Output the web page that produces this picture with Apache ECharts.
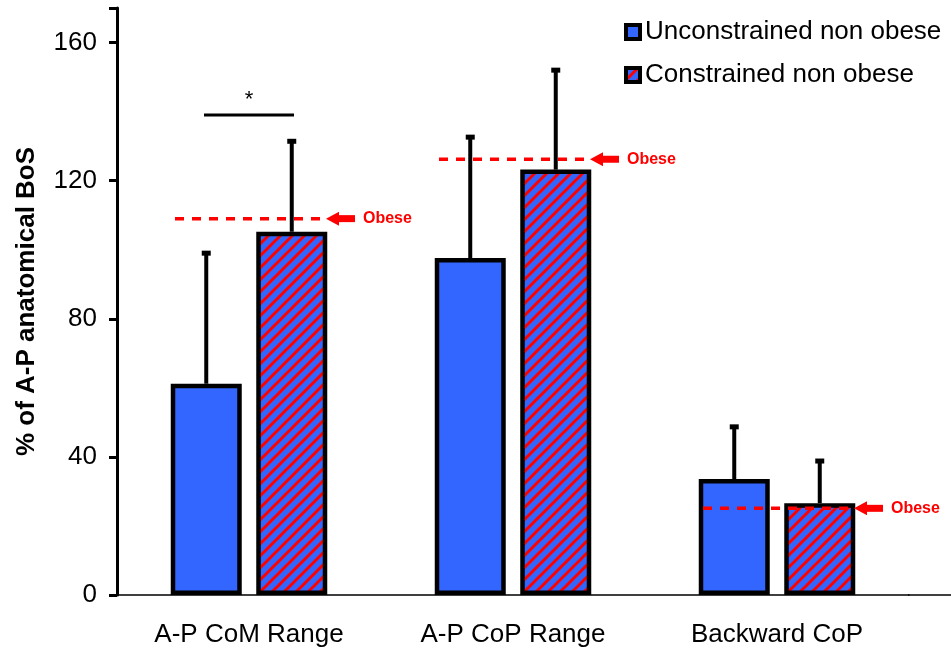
<!DOCTYPE html>
<html>
<head>
<meta charset="utf-8">
<script src="https://cdn.jsdelivr.net/npm/echarts@6/dist/echarts.min.js"></script>
<style>
  html, body { margin: 0; padding: 0; background: #fff; }
  #chart { width: 951px; height: 648px; }
</style>
</head>
<body>
<div id="chart"></div>
<script>
// data
var categories = ['A-P CoM Range', 'A-P CoP Range', 'Backward CoP']
var seriesNames = ['Unconstrained non obese', 'Constrained non obese']
var unconstrained = [61.2, 97.6, 33.6]
var unconstrainedErr = [99, 132.6, 48.7]
var constrained = [105.2, 123.2, 26.6]
var constrainedErr = [131.4, 152, 38.8]
var obese = [109, 126.2, 25.1]
var sigIndex = 0
var sigValue = 139
var yTicks = [0, 40, 80, 120, 160]

var BLUE = '#3366ff'
var RED = '#ff0000'
var FONT = 'Liberation Sans, Arial, sans-serif'
var BAR_W = 71
var BAR_GAP = 14.5 // px between the two bars of a group
var HALF = (BAR_W + BAR_GAP) / 2

// red diagonal stripes on blue
function makeStripes() {
  var c = document.createElement('canvas')
  c.width = 12
  c.height = 12
  var ctx = c.getContext('2d')
  ctx.fillStyle = BLUE
  ctx.fillRect(0, 0, 12, 12)
  ctx.strokeStyle = RED
  ctx.lineWidth = 3
  ctx.beginPath()
  ctx.moveTo(-1, 13); ctx.lineTo(13, -1)
  ctx.moveTo(-1, 1); ctx.lineTo(1, -1)
  ctx.moveTo(11, 13); ctx.lineTo(13, 11)
  ctx.stroke()
  return c
}
var stripes = { image: makeStripes(), repeat: 'repeat' }

function errData(means, tops) {
  return means.map(function(m, i) { return [i, m, tops[i]] })
}

function errorBars(offset) {
  return function(params, api) {
    var p0 = api.coord([api.value(0), api.value(1)])
    var p1 = api.coord([api.value(0), api.value(2)])
    var x = p0[0] + offset
    return {
      type: 'group',
      children: [
        { type: 'line', shape: { x1: x, y1: p0[1], x2: x, y2: p1[1] }, style: { stroke: '#000', lineWidth: 4 } },
        { type: 'rect', shape: { x: x - 4.5, y: p1[1] - 2.5, width: 9, height: 5 }, style: { fill: '#000' } }
      ]
    }
  }
}

var chart = echarts.init(document.getElementById('chart'))
chart.setOption({
  animation: false,
  textStyle: { fontFamily: FONT },
  grid: { left: 117, right: 42, top: 8, bottom: 53 },
  legend: {
    orient: 'vertical',
    left: 619,
    top: 14,
    icon: 'rect',
    itemWidth: 14,
    itemHeight: 14,
    itemGap: 17,
    itemStyle: { borderColor: '#000', borderWidth: 4 },
    textStyle: { fontSize: 26, color: '#000', fontFamily: FONT },
    data: seriesNames
  },
  xAxis: {
    type: 'category',
    data: categories,
    axisLine: { lineStyle: { color: '#000', width: 1.5 } },
    axisTick: { show: false },
    axisLabel: { fontSize: 26, color: '#000', margin: 27, fontFamily: FONT }
  },
  yAxis: {
    type: 'value',
    min: 0,
    max: 170,
    interval: 40,
    name: '% of A-P anatomical BoS',
    nameLocation: 'middle',
    nameGap: 77,
    nameTextStyle: { fontSize: 26, fontWeight: 'bold', color: '#000', fontFamily: FONT },
    axisLine: { show: true, lineStyle: { color: '#000', width: 3 } },
    axisTick: { show: true, length: 8, lineStyle: { color: '#000', width: 3 } },
    axisLabel: {
      fontSize: 26, color: '#000', margin: 20, fontFamily: FONT,
      formatter: function(v) { return yTicks.indexOf(v) >= 0 ? String(v) : '' }
    },
    splitLine: { show: false }
  },
  series: [
    {
      name: seriesNames[0],
      type: 'bar',
      barWidth: BAR_W,
      barGap: (BAR_GAP / BAR_W * 100) + '%',
      itemStyle: { color: BLUE, borderColor: '#000', borderWidth: 4.5 },
      data: unconstrained
    },
    {
      name: seriesNames[1],
      type: 'bar',
      barWidth: BAR_W,
      itemStyle: { color: stripes, borderColor: '#000', borderWidth: 4.5 },
      data: constrained
    },
    {
      type: 'custom',
      renderItem: errorBars(-HALF),
      data: errData(unconstrained, unconstrainedErr),
      z: 1
    },
    {
      type: 'custom',
      renderItem: errorBars(HALF),
      data: errData(constrained, constrainedErr),
      z: 1
    },
    {
      // obese reference lines with arrow and label
      type: 'custom',
      z: 5,
      renderItem: function(params, api) {
        var p = api.coord([api.value(0), api.value(1)])
        var cx = p[0], y = p[1]
        return {
          type: 'group',
          children: [
            { type: 'line', shape: { x1: cx - 74, y1: y, x2: cx + 78, y2: y },
              style: { stroke: RED, lineWidth: 3.5, lineDash: [9, 8] } },
            { type: 'polygon', shape: { points: [[cx + 77, y], [cx + 90, y - 7], [cx + 90, y + 7]] },
              style: { fill: RED } },
            { type: 'rect', shape: { x: cx + 89, y: y - 3.5, width: 17, height: 7 }, style: { fill: RED } },
            { type: 'text', x: cx + 114, y: y,
              style: { text: 'Obese', fill: RED, font: 'bold 16px ' + FONT, verticalAlign: 'middle', align: 'left' } }
          ]
        }
      },
      data: obese.map(function(v, i) { return [i, v] })
    },
    {
      // significance bracket
      type: 'custom',
      renderItem: function(params, api) {
        var p = api.coord([api.value(0), api.value(1)])
        return {
          type: 'group',
          children: [
            { type: 'line', shape: { x1: p[0] - 45, y1: p[1], x2: p[0] + 45, y2: p[1] },
              style: { stroke: '#000', lineWidth: 3 } },
            { type: 'text', x: p[0], y: p[1] - 15,
              style: { text: '*', fill: '#000', font: '22px ' + FONT, align: 'center', verticalAlign: 'middle' } }
          ]
        }
      },
      data: [[sigIndex, sigValue]]
    }
  ]
})

// x axis line runs on to the right edge in the original
var y0 = chart.convertToPixel({ yAxisIndex: 0 }, 0)
var xEnd = chart.getWidth() - 42
chart.setOption({
  graphic: [{ type: 'line', shape: { x1: xEnd - 1, y1: y0, x2: chart.getWidth(), y2: y0 }, style: { stroke: '#000', lineWidth: 1.5 } }]
})
</script>
</body>
</html>
